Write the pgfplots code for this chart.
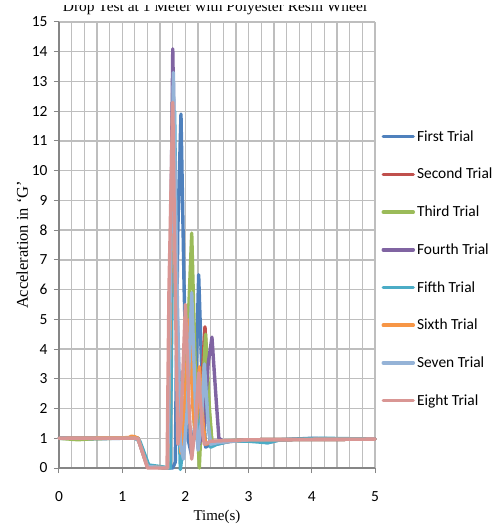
\documentclass[border=0pt]{standalone}
\usepackage{fontspec}
\setmainfont{Liberation Serif}
\newfontfamily\calibri{Carlito}
\usepackage{pgfplots}
\pgfplotsset{compat=1.18}
\definecolor{s1}{HTML}{4F81BD}
\definecolor{s2}{HTML}{C0504D}
\definecolor{s3}{HTML}{9BBB59}
\definecolor{s4}{HTML}{8064A2}
\definecolor{s5}{HTML}{4BACC6}
\definecolor{s6}{HTML}{F79646}
\definecolor{s7}{HTML}{95B3D7}
\definecolor{s8}{HTML}{D99694}
\definecolor{gridc}{HTML}{BEBEBE}
\definecolor{axc}{HTML}{868686}
\begin{document}
\begin{tikzpicture}
\begin{axis}[
  scale only axis, width=316bp, height=446bp,
  at={(0,0)}, anchor=south west,
  xmin=0, xmax=5, ymin=0, ymax=15,
  xtick={0,1,2,3,4,5}, ytick={0,1,...,15},
  minor x tick num=4,
  grid=both,
  major grid style={gridc, line width=1.3bp},
  minor grid style={gridc, line width=1.3bp},
  minor tick length=0pt,
  major tick length=5bp,
  tick align=outside,
  tick style={axc, line width=1bp},
  axis lines*=left,
  axis line style={axc, line width=1.3bp},
  /pgf/number format/assume math mode=true,
  ticklabel style={font=\calibri\fontsize{15.5}{15.5}\selectfont},
  xticklabel style={yshift=-15bp},
  yticklabel style={xshift=-3bp},
  xlabel={Time(s)},
  ylabel={Acceleration in `G'},
  xlabel style={font=\fontsize{15}{15}\selectfont, yshift=-2bp},
  ylabel style={font=\fontsize{16.5}{16.5}\selectfont, yshift=-3bp},
  clip=false,
  legend cell align=left,
  legend style={draw=none, fill=none, at={(1.02,0.447)}, anchor=west,
    font=\calibri\fontsize{15.5}{15.5}\selectfont, row sep=21.5bp,
    inner xsep=0pt},
  legend image code/.code={\draw[#1, line width=3.5bp] (0bp,0bp) -- (30bp,0bp);},
  every axis plot/.append style={line width=3.4bp, line join=round, line cap=round},
]
\addplot[s1] coordinates {(0,1.0)(0.5,0.98)(1.0,1.0)(1.2,1.02)(1.25,0.98)(1.4,0.1)(1.5,0.05)(1.7,0.0)(1.8,0.0)(1.84,0.2)(1.88,8)(1.93,11.9)(1.98,6)(2.04,1.0)(2.1,0.4)(2.15,1.5)(2.21,6.5)(2.27,2.5)(2.32,0.7)(2.4,0.8)(2.5,0.8)(2.7,0.9)(3.0,0.95)(3.3,0.85)(3.5,0.95)(4.0,1.0)(4.5,0.97)(5.0,0.97)};
\addlegendentry{First Trial}
\addplot[s2] coordinates {(0,1.0)(1.0,1.0)(1.2,1.02)(1.25,1.0)(1.4,0.05)(1.72,0.0)(1.76,5)(1.8,12.5)(1.86,5)(1.93,0.5)(2.0,2)(2.08,5.5)(2.15,2)(2.2,0.8)(2.25,2.5)(2.31,4.75)(2.37,2)(2.42,0.8)(2.5,0.85)(3.0,0.95)(5,0.97)};
\addlegendentry{Second Trial}
\addplot[s3] coordinates {(0,1.0)(0.3,0.95)(0.5,0.98)(1.2,1.02)(1.25,1.0)(1.4,0.05)(1.72,0)(1.76,5)(1.8,12.8)(1.86,5)(1.93,0.6)(2.0,2.5)(2.1,7.9)(2.16,3)(2.22,0.0)(2.27,2.5)(2.32,4.5)(2.38,2)(2.42,0.9)(2.5,0.9)(3,0.95)(5,0.97)};
\addlegendentry{Third Trial}
\addplot[s4] coordinates {(0,1)(1.2,1.02)(1.25,1.0)(1.4,0.05)(1.72,0)(1.76,6)(1.8,14.1)(1.86,6)(1.93,0.6)(2.0,2)(2.08,5)(2.15,2)(2.22,0.8)(2.3,1.5)(2.36,3.5)(2.42,4.4)(2.48,2.5)(2.53,1.0)(2.6,0.9)(3,0.95)(5,0.97)};
\addlegendentry{Fourth Trial}
\addplot[s5] coordinates {(0,1)(1.2,1.0)(1.28,0.9)(1.42,0.1)(1.6,0.05)(1.76,0)(1.79,6)(1.83,12)(1.87,4)(1.92,-0.05)(1.98,1)(2.06,5)(2.14,1.5)(2.2,0.8)(2.25,2)(2.3,3.3)(2.36,1.5)(2.4,0.7)(2.5,0.8)(2.7,0.9)(3,0.9)(3.3,0.85)(3.5,0.95)(4.2,1.0)(5,0.97)};
\addlegendentry{Fifth Trial}
\addplot[s6] coordinates {(0,1)(1.1,1.02)(1.15,1.07)(1.2,1.05)(1.25,1.0)(1.4,0.05)(1.72,0)(1.76,5)(1.8,12)(1.86,5)(1.93,0.5)(2.0,2.5)(2.06,5)(2.12,2)(2.16,1)(2.22,3.4)(2.28,1.5)(2.32,0.8)(2.4,0.85)(3,0.95)(5,0.97)};
\addlegendentry{Sixth Trial}
\addplot[s7] coordinates {(0,1)(1.2,1.0)(1.25,0.98)(1.4,0.05)(1.72,0)(1.76,6)(1.81,13.3)(1.86,7)(1.92,0.8)(1.97,0.3)(2.03,2)(2.1,5.9)(2.16,2)(2.2,0.6)(2.25,1.5)(2.3,3.5)(2.36,1.5)(2.4,0.8)(2.5,0.85)(3,0.95)(5,0.97)};
\addlegendentry{Seven Trial}
\addplot[s8] coordinates {(0,1)(1.2,1.0)(1.25,0.98)(1.4,0.0)(1.71,0.0)(1.74,6)(1.80,12.3)(1.84,6)(1.88,0.8)(1.93,1.5)(2.0,5.5)(2.06,2)(2.1,0.3)(2.16,1.5)(2.21,3.2)(2.27,1.2)(2.3,0.8)(2.4,0.9)(3,0.95)(5,0.97)};
\addlegendentry{Eight Trial}
\end{axis}
\node[font=\fontsize{15.5}{15.5}\selectfont, anchor=base] at (156bp,456.5bp) {Drop Test at 1 Meter with Polyester Resin Wheel};
\fill[white] (-59bp,462.5bp) rectangle (437bp,470bp);
\pgfresetboundingbox
\useasboundingbox (-59bp,-57bp) rectangle (437bp,468bp);
\end{tikzpicture}
\end{document}
